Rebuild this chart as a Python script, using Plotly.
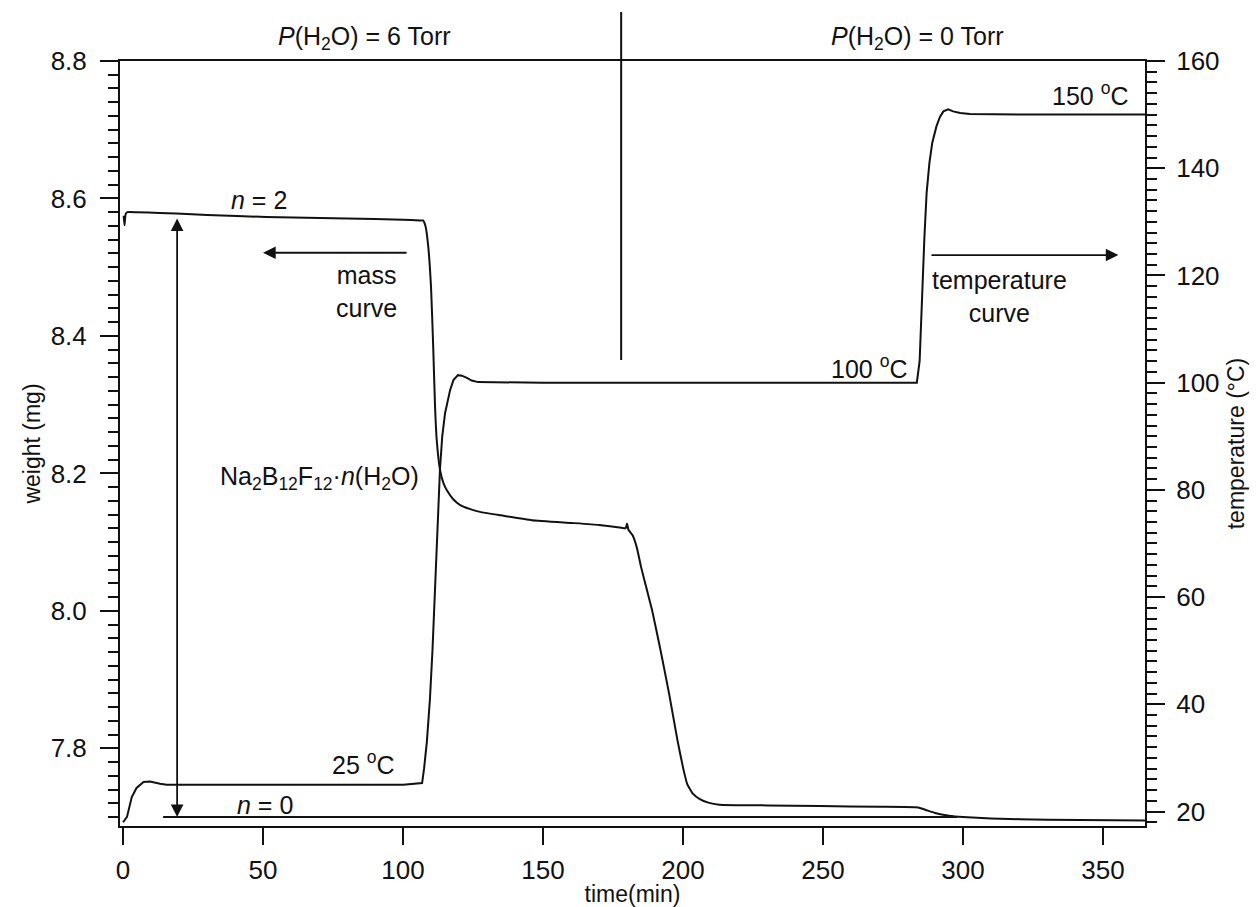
import plotly.graph_objects as go

# ---------------- data ----------------
mass_time = [0.2, 0.5, 0.9, 1.5, 5, 13, 19, 30, 51, 80, 100, 106, 107.1, 108, 109, 110,
             110.8, 111.4, 112, 113.2, 114.5, 115.7, 118, 120.4, 124, 127.5, 135, 146,
             160, 170, 178, 179.5, 180, 180.5, 182, 183.5, 185, 187, 189, 192, 195, 198,
             200, 201.5, 203.5, 206, 209, 213, 230, 249, 270, 284, 287, 290, 295, 300,
             310, 330, 365]
mass_weight = [8.575, 8.561, 8.577, 8.580, 8.580, 8.579, 8.578, 8.576, 8.573, 8.571, 8.569,
               8.568, 8.568, 8.560, 8.530, 8.470, 8.380, 8.300, 8.250, 8.205, 8.185, 8.175,
               8.162, 8.154, 8.148, 8.144, 8.139, 8.132, 8.128, 8.125, 8.121, 8.120, 8.127,
               8.118, 8.110, 8.092, 8.064, 8.032, 8.000, 7.942, 7.880, 7.812, 7.772, 7.748,
               7.734, 7.726, 7.721, 7.718, 7.717, 7.716, 7.715, 7.714, 7.710, 7.706, 7.702,
               7.700, 7.698, 7.696, 7.695]

temp_time = [0, 1.4, 3.1, 4.8, 7.3, 9.6, 13.2, 15.6, 50, 100, 106.8, 107.5, 108.5, 109.6,
             110.5, 111.4, 112.3, 113.2, 114, 115, 116.8, 118, 119.6, 121, 122.8, 124.5,
             126.8, 150, 200, 250, 283.5, 284.5, 285.4, 286.2, 287, 288, 289, 290.5, 291.8,
             293, 294.7, 296.5, 299, 302.5, 330, 365]
temp_value = [18, 19, 22.7, 24.4, 25.5, 25.6, 25.2, 25, 25, 25, 25.3, 28, 33, 41, 50, 61,
              72, 84, 90, 94.3, 98.6, 100.5, 101.4, 101.3, 100.9, 100.4, 100.1, 100, 100,
              100, 100, 104, 116.7, 127, 135.4, 141, 144.7, 147.8, 149.6, 150.6, 151, 150.6,
              150.3, 150.1, 150, 150]

n0_time = [14.3, 298]
n0_weight = [7.700, 7.700]

x_ticks = [0, 50, 100, 150, 200, 250, 300, 350]
w_ticks = [7.8, 8.0, 8.2, 8.4, 8.6, 8.8]
t_ticks = [20, 40, 60, 80, 100, 120, 140, 160]

FONT = "Liberation Sans, Arial, Helvetica, sans-serif"
BLACK = "#111111"
ANN_SIZE = 25
TICK_SIZE = 26
TITLE_SIZE = 23

fig = go.Figure()
fig.add_trace(go.Scatter(x=mass_time, y=mass_weight, mode="lines",
                         line=dict(color=BLACK, width=2, shape="spline", smoothing=0.4),
                         name="mass", yaxis="y"))
fig.add_trace(go.Scatter(x=temp_time, y=temp_value, mode="lines",
                         line=dict(color=BLACK, width=2), name="temperature", yaxis="y2"))
fig.add_trace(go.Scatter(x=n0_time, y=n0_weight, mode="lines",
                         line=dict(color=BLACK, width=2), name="n = 0", yaxis="y"))

ann = []
def txt(text, x, y, yref="y", size=ANN_SIZE, xref="x"):
    ann.append(dict(text=text, x=x, y=y, xref=xref, yref=yref, showarrow=False,
                    font=dict(size=size, color=BLACK, family=FONT),
                    xanchor="center", yanchor="middle"))

txt("<i>n</i> = 2", 48.6, 8.598)
txt("mass<br>curve", 87.1, 8.464)
txt("temperature<br>curve", 313.2, 8.458)
txt("100 <sup>o</sup>C", 266.5, 8.355)
txt("150 <sup>o</sup>C", 345.5, 8.752)
txt("25 <sup>o</sup>C", 85.7, 7.778)
txt("<i>n</i> = 0", 50.7, 7.717)
txt("Na<sub>2</sub>B<sub>12</sub>F<sub>12</sub>·<i>n</i>(H<sub>2</sub>O)", 70.0, 8.193)
txt("<i>P</i>(H<sub>2</sub>O) = 6 Torr", 86.4, 1.030, yref="paper")
txt("<i>P</i>(H<sub>2</sub>O) = 0 Torr", 283.6, 1.030, yref="paper")

def arrow(x, y, ax, ay, yref="y", both=False):
    ann.append(dict(text="", x=x, y=y, ax=ax, ay=ay, xref="x", yref=yref,
                    axref="x", ayref=yref, showarrow=True, arrowhead=2,
                    arrowsize=1.4, arrowwidth=1.8, arrowcolor=BLACK, standoff=0,
                    startstandoff=0, startarrowhead=2, startarrowsize=1.4,
                    arrowside="end+start" if both else "end"))

arrow(19.3, 7.700, 19.3, 8.573, both=True)
arrow(50.0, 8.521, 101.8, 8.521)
arrow(355.5, 123.8, 288.2, 123.8, yref="y2")

fig.update_layout(
    width=1257, height=907,
    margin=dict(l=120, r=112, t=61, b=81, autoexpand=False),
    paper_bgcolor="white", plot_bgcolor="white",
    showlegend=False,
    font=dict(family=FONT, size=TICK_SIZE, color=BLACK),
    annotations=ann,
    shapes=[dict(type="line", xref="x", yref="paper", x0=177.9, x1=177.9,
                 y0=0.609, y1=1.064, line=dict(color=BLACK, width=2))],
    xaxis=dict(range=[-1.1, 365], tickvals=x_ticks, ticks="outside", ticklen=17,
               tickwidth=2, tickcolor=BLACK, showline=True, linewidth=2, linecolor=BLACK,
               mirror=True, showgrid=False, zeroline=False, ticklabelstandoff=3,
               automargin=False,
               tickfont=dict(size=TICK_SIZE, family=FONT, color=BLACK),
               title=dict(text="time(min)", font=dict(size=TITLE_SIZE, family=FONT, color=BLACK),
                          standoff=0)),
    yaxis=dict(range=[7.687, 8.8], tickvals=w_ticks, tickformat=".1f", ticks="outside",
               ticklen=18, tickwidth=2, tickcolor=BLACK, showline=True, linewidth=2,
               linecolor=BLACK, showgrid=False, zeroline=False, ticklabelstandoff=8,
               automargin=False,
               tickfont=dict(size=TICK_SIZE, family=FONT, color=BLACK),
               minor=dict(tick0=7.8, dtick=0.02, ticks="outside", ticklen=10, tickwidth=2,
                          tickcolor=BLACK, showgrid=False),
               title=dict(text="weight (mg)", font=dict(size=TITLE_SIZE, family=FONT, color=BLACK),
                          standoff=4)),
    yaxis2=dict(range=[17.3, 160], tickvals=t_ticks, overlaying="y", side="right",
                ticks="outside", ticklen=18, tickwidth=2, tickcolor=BLACK, showline=True,
                linewidth=2, linecolor=BLACK, showgrid=False, zeroline=False,
                ticklabelstandoff=6, automargin=False,
                tickfont=dict(size=TICK_SIZE, family=FONT, color=BLACK),
                minor=dict(tick0=20, dtick=2, ticks="outside", ticklen=10, tickwidth=2,
                           tickcolor=BLACK, showgrid=False),
                title=dict(text="temperature (°C)", font=dict(size=TITLE_SIZE, family=FONT, color=BLACK),
                           standoff=9)),
)

fig.write_html("out.html")
